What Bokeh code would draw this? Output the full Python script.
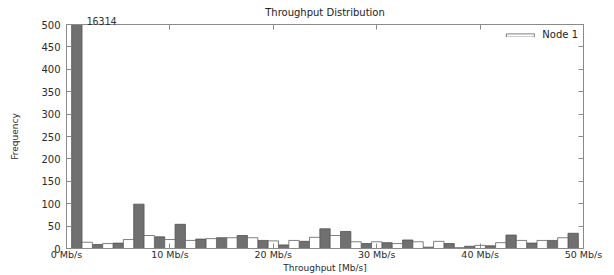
from bokeh.plotting import figure
from bokeh.models import (LinearAxis, FixedTicker, Legend, LegendItem, Title,
                          ColumnDataSource, Range1d)
from bokeh.embed import file_html
from bokeh.resources import INLINE

# ---- data ----
gray_bins = [1, 3, 5, 7, 9, 11, 13, 15, 17, 19, 21, 23, 25, 27, 29, 31, 33, 35,
             37, 39, 41, 43, 45, 47, 49]
gray_counts = [16314, 9, 12, 99, 26, 54, 21, 24, 29, 18, 8, 16, 44, 38, 11, 13,
               19, 3, 11, 5, 6, 30, 12, 18, 34]
white_bins = [2, 4, 6, 8, 10, 12, 14, 16, 18, 20, 22, 24, 26, 28, 30, 32, 34, 36,
              38, 40, 42, 44, 46, 48]
white_counts = [14, 11, 20, 29, 20, 18, 22, 24, 24, 17, 18, 25, 29, 15, 15, 11,
                15, 16, 2, 7, 13, 18, 18, 24]
x_tick_vals = [0, 10, 20, 30, 40, 50]
x_tick_labels = ["0 Mb/s", "10 Mb/s", "20 Mb/s", "30 Mb/s", "40 Mb/s", "50 Mb/s"]
y_tick_vals = [0, 50, 100, 150, 200, 250, 300, 350, 400, 450, 500]
peak_label = "16314"

FONT = "DejaVu Sans"
FRAME = "#8a8a8a"
TXT = "#2a2a2a"

p = figure(width=614, height=275, output_backend="svg", toolbar_location=None,
           x_range=Range1d(0, 50), y_range=Range1d(0, 500),
           min_border_left=66, min_border_right=31, min_border_top=24,
           min_border_bottom=24)

p.xgrid.visible = False
p.ygrid.visible = False
p.outline_line_color = FRAME
p.background_fill_color = "white"

gsrc = ColumnDataSource(dict(x=gray_bins, top=gray_counts))
wsrc = ColumnDataSource(dict(x=white_bins, top=white_counts))
p.vbar(x="x", top="top", width=1.0, bottom=0, source=gsrc,
       fill_color="#707070", line_color="#505050", line_width=0.8)
wr = p.vbar(x="x", top="top", width=1.0, bottom=0, source=wsrc,
            fill_color="white", line_color="#606060", line_width=0.8)

# axes
xa = p.xaxis[0]
xa.ticker = FixedTicker(ticks=x_tick_vals)
xa.major_label_overrides = {v: l for v, l in zip(x_tick_vals, x_tick_labels)}
xa.axis_label = "Throughput [Mb/s]"
ya = p.yaxis[0]
ya.ticker = FixedTicker(ticks=y_tick_vals)
ya.axis_label = "Frequency"

for ax in (xa, ya):
    ax.major_tick_in = 5
    ax.major_tick_out = 0
    ax.minor_tick_line_color = None
    ax.axis_line_color = FRAME
    ax.major_tick_line_color = FRAME
    ax.major_label_text_font = FONT
    ax.major_label_text_font_size = "10px"
    ax.major_label_text_color = TXT
    ax.axis_label_text_font = FONT
    ax.axis_label_text_font_style = "normal"
    ax.axis_label_text_color = TXT

xa.major_label_standoff = 0
xa.axis_label_standoff = 0
xa.axis_label_text_font_size = "9px"
xa.major_label_text_font_size = "9.5px"
ya.major_label_standoff = 6
ya.axis_label_standoff = 18
ya.axis_label_text_font_size = "9px"

top_ax = LinearAxis(ticker=FixedTicker(ticks=x_tick_vals),
                    major_label_overrides={v: "" for v in x_tick_vals})
right_ax = LinearAxis(ticker=FixedTicker(ticks=y_tick_vals),
                      major_label_overrides={v: "" for v in y_tick_vals})
for ax in (top_ax, right_ax):
    ax.major_tick_in = 5
    ax.major_tick_out = 0
    ax.minor_tick_line_color = None
    ax.axis_line_color = FRAME
    ax.major_tick_line_color = FRAME
    ax.major_label_standoff = 0
p.add_layout(top_ax, "above")
p.add_layout(right_ax, "right")

# peak annotation (just above the frame, next to the clipped bar)
p.add_layout(Title(text=peak_label, align="left", offset=20, standoff=0,
                   text_font="DejaVu Sans Mono", text_font_size="10px",
                   text_font_style="normal", text_color="#333333"), "above")

p.title.text = "Throughput Distribution"
p.title.align = "center"
p.title.text_font = FONT
p.title.text_font_size = "10px"
p.title.text_font_style = "normal"
p.title.text_color = "#222222"
p.title.standoff = -6
p.title.offset = 0

legend = Legend(items=[LegendItem(label="Node 1", renderers=[wr])],
                location="top_right", border_line_color=None,
                background_fill_alpha=0, glyph_width=35, glyph_height=4,
                label_standoff=5,
                label_text_font=FONT, label_text_font_size="10px",
                label_text_color="#222222", padding=2, margin=5, spacing=0)
p.add_layout(legend)

open("out.html", "w").write(file_html(p, INLINE))
